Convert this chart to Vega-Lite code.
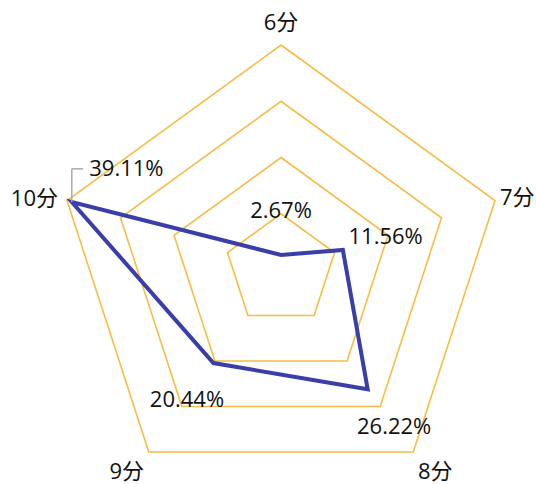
{
  "$schema": "https://vega.github.io/schema/vega-lite/v6.json",
  "width": 536,
  "height": 484,
  "padding": 0,
  "autosize": {"type": "none"},
  "background": "white",
  "config": {"view": {"stroke": null}, "text": {"font": "Open Sans, Noto Sans CJK SC", "fontSize": 22, "fill": "#111"}},
  "datasets": {
    "scores": [
      {"axis": "6分", "i": 0, "v": 2.67, "label": "2.67%"},
      {"axis": "7分", "i": 1, "v": 11.56, "label": "11.56%"},
      {"axis": "8分", "i": 2, "v": 26.22, "label": "26.22%"},
      {"axis": "9分", "i": 3, "v": 20.44, "label": "20.44%"},
      {"axis": "10分", "i": 4, "v": 39.11, "label": "39.11%"}
    ],
    "rings": [
      {"level": 10, "i": 0}, {"level": 10, "i": 1}, {"level": 10, "i": 2}, {"level": 10, "i": 3}, {"level": 10, "i": 4},
      {"level": 20, "i": 0}, {"level": 20, "i": 1}, {"level": 20, "i": 2}, {"level": 20, "i": 3}, {"level": 20, "i": 4},
      {"level": 30, "i": 0}, {"level": 30, "i": 1}, {"level": 30, "i": 2}, {"level": 30, "i": 3}, {"level": 30, "i": 4},
      {"level": 40, "i": 0}, {"level": 40, "i": 1}, {"level": 40, "i": 2}, {"level": 40, "i": 3}, {"level": 40, "i": 4}
    ]
  },
  "layer": [
    {
      "data": {"name": "rings"},
      "transform": [
        {"calculate": "datum.level*sin(datum.i*2*PI/5)", "as": "x"},
        {"calculate": "datum.level*cos(datum.i*2*PI/5)", "as": "y"}
      ],
      "mark": {"type": "line", "interpolate": "linear-closed", "stroke": "#F5BD45", "strokeWidth": 1.6},
      "encoding": {
        "x": {"field": "x", "type": "quantitative", "scale": {"domain": [-49.96, 45.33], "nice": false, "zero": false}, "axis": null},
        "y": {"field": "y", "type": "quantitative", "scale": {"domain": [-38.04, 48], "nice": false, "zero": false}, "axis": null},
        "detail": {"field": "level"},
        "order": {"field": "i"}
      }
    },
    {
      "data": {"name": "scores"},
      "transform": [
        {"calculate": "datum.v*sin(datum.i*2*PI/5)", "as": "x"},
        {"calculate": "datum.v*cos(datum.i*2*PI/5)", "as": "y"}
      ],
      "mark": {"type": "line", "interpolate": "linear-closed", "stroke": "#3A3EA8", "strokeWidth": 4, "strokeJoin": "miter"},
      "encoding": {
        "x": {"field": "x", "type": "quantitative", "axis": null},
        "y": {"field": "y", "type": "quantitative", "axis": null},
        "order": {"field": "i"}
      }
    },
    {
      "data": {"name": "scores"},
      "transform": [
        {"filter": "datum.i < 4"},
        {"calculate": "(datum.v+8)*sin(datum.i*2*PI/5)", "as": "x"},
        {"calculate": "(datum.v+8)*cos(datum.i*2*PI/5)", "as": "y"}
      ],
      "mark": {"type": "text", "align": "center", "baseline": "middle", "dy": 1},
      "encoding": {
        "x": {"field": "x", "type": "quantitative", "axis": null},
        "y": {"field": "y", "type": "quantitative", "axis": null},
        "text": {"field": "label"}
      }
    },
    {
      "data": {"name": "scores"},
      "transform": [
        {"filter": "datum.i == 4"},
        {"calculate": "datum.v*sin(datum.i*2*PI/5)", "as": "x"},
        {"calculate": "datum.v*cos(datum.i*2*PI/5)", "as": "y"},
        {"calculate": "datum.y + 5.9", "as": "y2"}
      ],
      "mark": {"type": "rule", "stroke": "#AAAAAA", "strokeWidth": 1.5},
      "encoding": {
        "x": {"field": "x", "type": "quantitative", "axis": null},
        "y": {"field": "y", "type": "quantitative", "axis": null},
        "y2": {"field": "y2"}
      }
    },
    {
      "data": {"name": "scores"},
      "transform": [
        {"filter": "datum.i == 4"},
        {"calculate": "datum.v*sin(datum.i*2*PI/5)", "as": "x"},
        {"calculate": "datum.v*cos(datum.i*2*PI/5) + 5.9", "as": "y"},
        {"calculate": "datum.x + 2", "as": "x2"}
      ],
      "mark": {"type": "rule", "stroke": "#AAAAAA", "strokeWidth": 1.5},
      "encoding": {
        "x": {"field": "x", "type": "quantitative", "axis": null},
        "x2": {"field": "x2"},
        "y": {"field": "y", "type": "quantitative", "axis": null}
      }
    },
    {
      "data": {"name": "scores"},
      "transform": [
        {"filter": "datum.i == 4"},
        {"calculate": "datum.v*sin(datum.i*2*PI/5) + 3.1", "as": "x"},
        {"calculate": "datum.v*cos(datum.i*2*PI/5) + 5.9", "as": "y"}
      ],
      "mark": {"type": "text", "align": "left", "baseline": "middle"},
      "encoding": {
        "x": {"field": "x", "type": "quantitative", "axis": null},
        "y": {"field": "y", "type": "quantitative", "axis": null},
        "text": {"field": "label"}
      }
    },
    {
      "data": {"name": "scores"},
      "transform": [
        {"filter": "datum.i == 0"},
        {"calculate": "40*sin(datum.i*2*PI/5)", "as": "x"},
        {"calculate": "40*cos(datum.i*2*PI/5)", "as": "y"}
      ],
      "mark": {"type": "text", "align": "center", "baseline": "middle", "dy": -22},
      "encoding": {
        "x": {"field": "x", "type": "quantitative", "axis": null},
        "y": {"field": "y", "type": "quantitative", "axis": null},
        "text": {"field": "axis"}
      }
    },
    {
      "data": {"name": "scores"},
      "transform": [
        {"filter": "datum.i == 1"},
        {"calculate": "40*sin(datum.i*2*PI/5)", "as": "x"},
        {"calculate": "40*cos(datum.i*2*PI/5)", "as": "y"}
      ],
      "mark": {"type": "text", "align": "left", "baseline": "middle", "dx": 5, "dy": -2},
      "encoding": {
        "x": {"field": "x", "type": "quantitative", "axis": null},
        "y": {"field": "y", "type": "quantitative", "axis": null},
        "text": {"field": "axis"}
      }
    },
    {
      "data": {"name": "scores"},
      "transform": [
        {"filter": "datum.i == 2"},
        {"calculate": "40*sin(datum.i*2*PI/5)", "as": "x"},
        {"calculate": "40*cos(datum.i*2*PI/5)", "as": "y"}
      ],
      "mark": {"type": "text", "align": "center", "baseline": "middle", "dx": 22, "dy": 20},
      "encoding": {
        "x": {"field": "x", "type": "quantitative", "axis": null},
        "y": {"field": "y", "type": "quantitative", "axis": null},
        "text": {"field": "axis"}
      }
    },
    {
      "data": {"name": "scores"},
      "transform": [
        {"filter": "datum.i == 3"},
        {"calculate": "40*sin(datum.i*2*PI/5)", "as": "x"},
        {"calculate": "40*cos(datum.i*2*PI/5)", "as": "y"}
      ],
      "mark": {"type": "text", "align": "center", "baseline": "middle", "dx": -22, "dy": 20},
      "encoding": {
        "x": {"field": "x", "type": "quantitative", "axis": null},
        "y": {"field": "y", "type": "quantitative", "axis": null},
        "text": {"field": "axis"}
      }
    },
    {
      "data": {"name": "scores"},
      "transform": [
        {"filter": "datum.i == 4"},
        {"calculate": "40*sin(datum.i*2*PI/5)", "as": "x"},
        {"calculate": "40*cos(datum.i*2*PI/5)", "as": "y"}
      ],
      "mark": {"type": "text", "align": "right", "baseline": "middle", "dx": -9, "dy": -1},
      "encoding": {
        "x": {"field": "x", "type": "quantitative", "axis": null},
        "y": {"field": "y", "type": "quantitative", "axis": null},
        "text": {"field": "axis"}
      }
    }
  ]
}
